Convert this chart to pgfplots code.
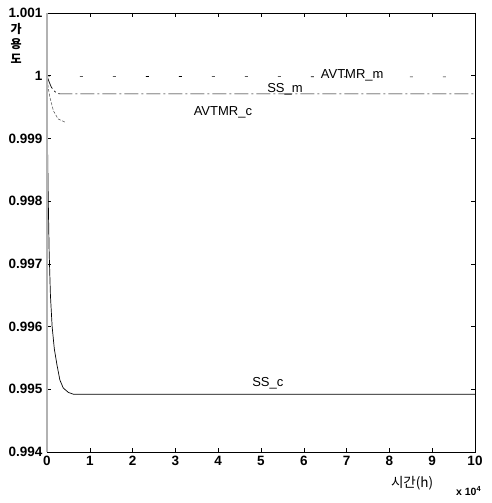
\documentclass[border=0pt]{standalone}
\usepackage{fontspec}
\setmainfont{Liberation Sans}
\newfontfamily\kr{Noto Sans CJK KR}
\usepackage{pgfplots}
\pgfplotsset{compat=1.18}

\begin{document}
\begin{tikzpicture}
\begin{axis}[
    width=428pt, height=439pt, scale only axis,
    xmin=0, xmax=10, ymin=0.994, ymax=1.001,
    xtick={0,1,...,10},
    ytick={0.994,0.995,0.996,0.997,0.998,0.999,1,1.001},
    yticklabels={0.994,0.995,0.996,0.997,0.998,0.999,1,1.001},
    tick align=inside,
    major tick length=4pt,
    tick style={black, line width=0.6pt},
    axis line style={black, line width=0.8pt},
    tick label style={font=\fontsize{13.5}{13.5}\selectfont\bfseries},
    xticklabel style={yshift=-1pt},
    yticklabel style={xshift=-1pt},
    /pgf/number format/assume math mode=true,
    clip=false,
]
% SS_c
\addplot[black, line width=0.7pt] coordinates {
    (0,1.0) (0.01,0.9990) (0.03,0.9980) (0.05,0.9972) (0.08,0.9965)
    (0.12,0.99600) (0.17,0.99565) (0.23,0.99540) (0.30,0.99515)
    (0.38,0.99502) (0.5,0.99495) (0.62,0.99492) (10,0.99492)
};
% SS_m
\addplot[black, line width=0.7pt, dash pattern=on 14pt off 3pt on 2pt off 3pt] coordinates {
    (0,1.0) (0.05,0.99990) (0.10,0.99982) (0.15,0.99977) (0.23,0.99972)
    (0.30,0.99971) (10,0.99971)
};
% AVTMR_c
\addplot[black!70, line width=0.5pt, dash pattern=on 3pt off 1.5pt] coordinates {
    (0,1.0) (0.03,0.99980) (0.07,0.99965) (0.15,0.99944) (0.26,0.99931)
    (0.42,0.99926)
};
% AVTMR_m
\addplot[black, line width=0.6pt, dash pattern=on 3pt off 30pt] coordinates {
    (0,1.0) (0.1,0.99999) (10,0.99998)
};
\node[font=\fontsize{13}{13}\selectfont] at (axis cs:7.13,1.0000) {AVTMR\_m};
\node[font=\fontsize{13}{13}\selectfont] at (axis cs:5.56,0.99978) {SS\_m};
\node[font=\fontsize{13}{13}\selectfont] at (axis cs:4.11,0.99941) {AVTMR\_c};
\node[font=\fontsize{13}{13}\selectfont] at (axis cs:5.16,0.99510) {SS\_c};
\draw[gray!60, line width=1.2pt] (rel axis cs:0,0) -- (rel axis cs:0,1);
\node[font=\kr\bfseries\fontsize{12}{15}\selectfont, align=center] at (rel axis cs:-0.072,0.93) {가\\용\\도};
\node[font=\kr\fontsize{13.5}{13.5}\selectfont] at (rel axis cs:0.853,-0.072) {시간(h)};
\node[font=\bfseries\fontsize{10.5}{10.5}\selectfont] at (rel axis cs:0.985,-0.088) {x 10$^{\mathbf{4}}$};
\end{axis}
\path[use as bounding box] ([xshift=-47pt,yshift=-51pt]current axis.south west) rectangle ([xshift=17pt,yshift=13pt]current axis.north east);
\end{tikzpicture}
\end{document}
